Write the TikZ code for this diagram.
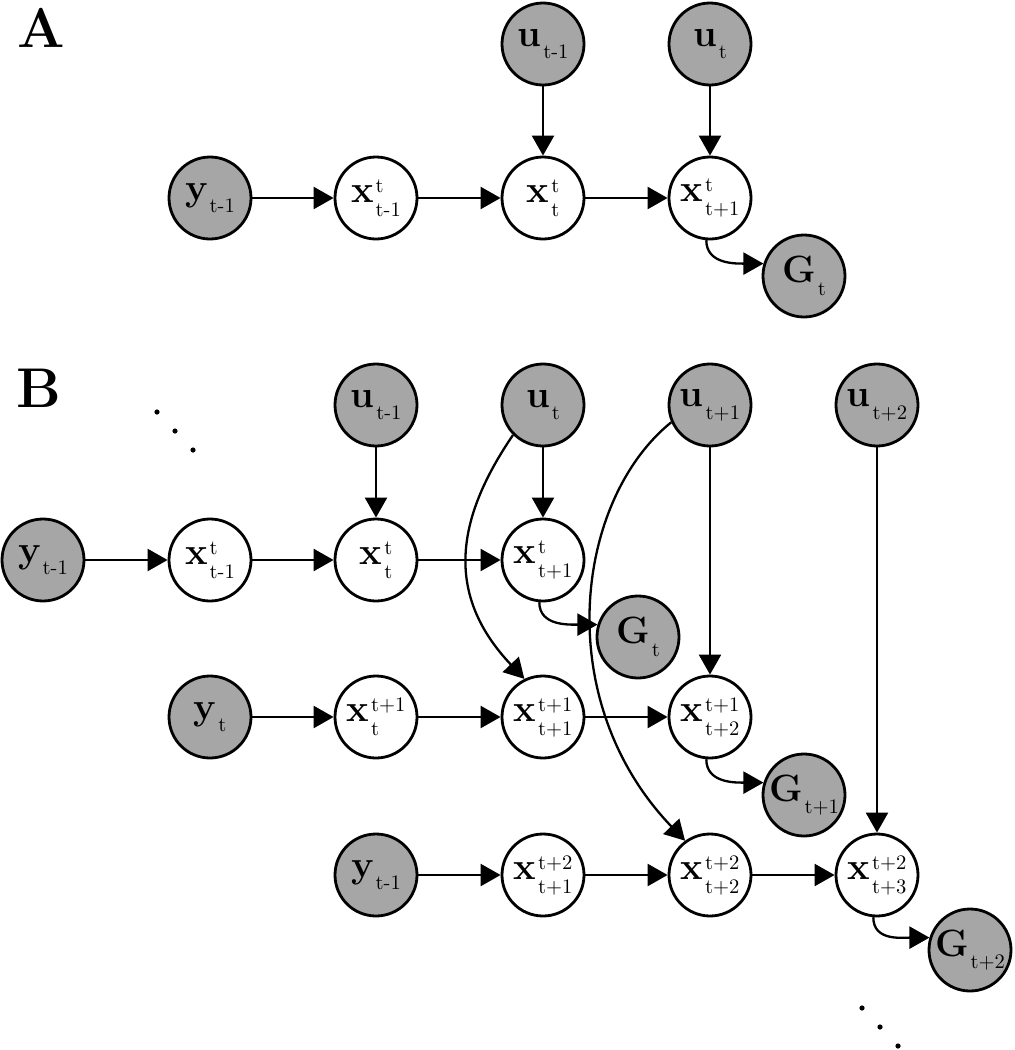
\documentclass[tikz,border=0pt]{standalone}
\usepackage{fontspec}
\usetikzlibrary{arrows.meta}
\definecolor{nodegray}{RGB}{166,166,166}
\tikzset{
 var/.style={circle, draw=black, line width=1.4pt, minimum size=41pt, inner sep=0pt},
 obs/.style={var, fill=nodegray},
 lat/.style={var, fill=white},
 edge/.style={line width=1.15pt, -{Triangle[length=10pt,width=11pt]}},
 panel/.style={font=\fontsize{28}{30}\selectfont\bfseries, inner sep=0pt},
 dotmark/.style={fill=black},
}
\newcommand{\mainf}{\fontsize{19}{20}\selectfont\bfseries}
\newcommand{\scrf}{\fontsize{10.3}{11}\selectfont\mdseries}
\newsavebox\supbox
\newsavebox\subbox
\newlength\scrw
\newcommand{\scrst}[2]{\sbox\supbox{\scrf #1}\sbox\subbox{\scrf #2}%
 \ifdim\wd\supbox>\wd\subbox \setlength\scrw{\wd\supbox}\else\setlength\scrw{\wd\subbox}\fi
 \makebox[\scrw][l]{\rlap{\raisebox{5pt}{\usebox\supbox}}\raisebox{-7pt}{\usebox\subbox}}}
\newcommand{\lt}[2]{{\mainf x}\kern1pt\scrst{#1}{#2}}
\newcommand{\ob}[2]{{\mainf #1}\kern1pt\raisebox{-6.3pt}{\scrf #2}}
\begin{document}
\begin{tikzpicture}[x=0.5pt,y=-0.5pt]
\useasboundingbox (0,0) rectangle (1014,1050);
% ---------------- Panel A
\node[panel] (labA) at (41,28) {A};
\node[obs] (uA1) at (543,44) {\ob{u}{t-1}};
\node[obs] (uA2) at (710,44) {\ob{u}{t}};
\node[obs] (yA) at (210,198) {\ob{y}{t-1}};
\node[lat] (xA1) at (376,198) {\lt{t}{t-1}};
\node[lat] (xA2) at (543,198) {\lt{t}{t}};
\node[lat] (xA3) at (710,198) {\lt{t}{t+1}};
\node[obs] (GA) at (804,276) {\ob{G}{t}};
\draw[edge] (uA1) -- (xA2);
\draw[edge] (uA2) -- (xA3);
\draw[edge] (yA) -- (xA1);
\draw[edge] (xA1) -- (xA2);
\draw[edge] (xA2) -- (xA3);
\draw[edge] (xA3.-95) .. controls +(0,24) and +(-28,0) .. (GA.163);
% ---------------- Panel B
\node[panel] (labB) at (39,388) {B};
\fill[dotmark] (157,412) circle (2.6);
\fill[dotmark] (175,431) circle (2.6);
\fill[dotmark] (193,450) circle (2.6);
\node[obs] (uB1) at (376,405) {\ob{u}{t-1}};
\node[obs] (uB2) at (543,405) {\ob{u}{t}};
\node[obs] (uB3) at (710,405) {\ob{u}{t+1}};
\node[obs] (uB4) at (877,405) {\ob{u}{t+2}};
% row 1
\node[obs] (yB1) at (43,560) {\ob{y}{t-1}};
\node[lat] (xB11) at (210,560) {\lt{t}{t-1}};
\node[lat] (xB12) at (376,560) {\lt{t}{t}};
\node[lat] (xB13) at (543,560) {\lt{t}{t+1}};
\node[obs] (GB1) at (638,637) {\ob{G}{t}};
% row 2
\node[obs] (yB2) at (210,717) {\ob{y}{t}};
\node[lat] (xB21) at (376,717) {\lt{t+1}{t}};
\node[lat] (xB22) at (543,717) {\lt{t+1}{t+1}};
\node[lat] (xB23) at (710,717) {\lt{t+1}{t+2}};
\node[obs] (GB2) at (804,795) {\ob{G}{t+1}};
% row 3
\node[obs] (yB3) at (376,875) {\ob{y}{t-1}};
\node[lat] (xB31) at (543,875) {\lt{t+2}{t+1}};
\node[lat] (xB32) at (710,875) {\lt{t+2}{t+2}};
\node[lat] (xB33) at (877,875) {\lt{t+2}{t+3}};
\node[obs] (GB3) at (970,950) {\ob{G}{t+2}};
\fill[dotmark] (862,1008) circle (2.6);
\fill[dotmark] (880,1027) circle (2.6);
\fill[dotmark] (898,1046) circle (2.6);
% edges
\draw[edge] (uB1) -- (xB12);
\draw[edge] (uB2) -- (xB13);
\draw[edge] (uB3) -- (xB23);
\draw[edge] (uB4) -- (xB33);
\draw[edge] (yB1) -- (xB11);
\draw[edge] (xB11) -- (xB12);
\draw[edge] (xB12) -- (xB13);
\draw[edge] (yB2) -- (xB21);
\draw[edge] (xB21) -- (xB22);
\draw[edge] (xB22) -- (xB23);
\draw[edge] (yB3) -- (xB31);
\draw[edge] (xB31) -- (xB32);
\draw[edge] (xB32) -- (xB33);
\draw[edge] (xB13.-95) .. controls +(0,24) and +(-28,0) .. (GB1.163);
\draw[edge] (xB23.-95) .. controls +(0,24) and +(-28,0) .. (GB2.163);
\draw[edge] (xB33.-95) .. controls +(0,24) and +(-28,0) .. (GB3.163);
\draw[edge] (uB2.225) .. controls (455,520) and (445,595) .. (xB22.116);
\draw[edge] (uB3.204) .. controls (575,500) and (550,700) .. (xB32.126);
\end{tikzpicture}
\end{document}
